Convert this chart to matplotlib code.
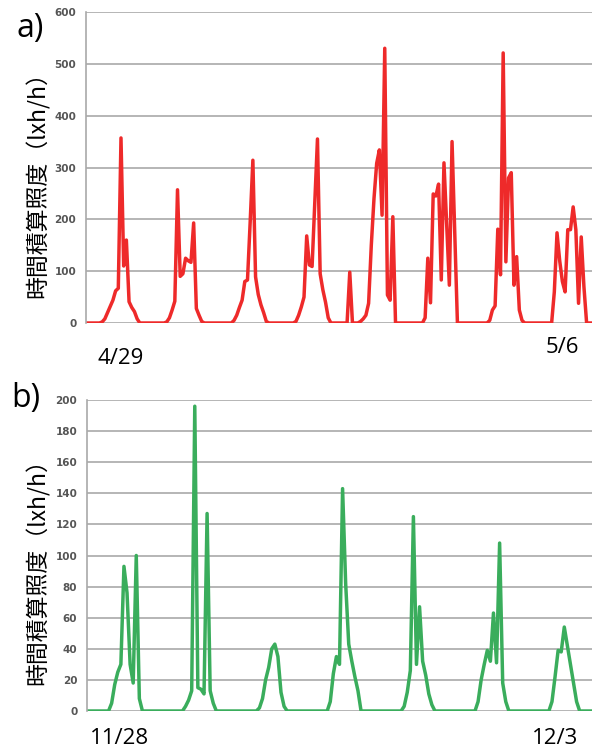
import numpy as np
import matplotlib
matplotlib.use("Agg")
import matplotlib.pyplot as plt
from matplotlib.transforms import blended_transform_factory

# ---------------- data: hourly illuminance (lxh/h) ----------------
# panel a) 4/29 - 5/6  (one list of 24 hourly values per day)
a_day1 = [0, 0, 0, 0, 0, 0, 2, 8, 20, 32, 44, 62, 67, 357, 110, 160, 41, 30, 22, 8, 0, 0, 0, 0]
a_day2 = [0, 0, 0, 0, 0, 0, 2, 10, 25, 42, 257, 90, 95, 125, 120, 117, 193, 28, 15, 3, 0, 0, 0, 0]
a_day3 = [0, 0, 0, 0, 0, 0, 0, 5, 15, 30, 44, 80, 83, 195, 314, 89, 55, 35, 20, 3, 0, 0, 0, 0]
a_day4 = [0, 0, 0, 0, 0, 0, 3, 15, 31, 50, 168, 112, 109, 230, 355, 95, 64, 40, 10, 0, 0, 0, 0, 0]
a_day5 = [0, 0, 98, 0, 0, 0, 3, 8, 15, 38, 150, 240, 308, 334, 208, 530, 54, 44, 205, 0, 0, 0, 0, 0]
a_day6 = [0, 0, 0, 0, 0, 0, 10, 125, 39, 249, 245, 268, 83, 309, 190, 73, 350, 175, 0, 0, 0, 0, 0, 0]
a_day7 = [0, 0, 0, 0, 0, 0, 5, 25, 33, 181, 93, 521, 118, 280, 290, 73, 128, 25, 5, 0, 0, 0, 0, 0]
a_day8 = [0, 0, 0, 0, 0, 0, 60, 174, 120, 80, 60, 180, 180, 224, 180, 38, 166, 70, 0, 0, 0]
a_labels = ["4/29", "5/6"]

# panel b) 11/28 - 12/3
b_day1 = [0, 0, 0, 0, 0, 0, 0, 0, 5, 17, 25, 30, 93, 76, 30, 18, 100, 8, 0, 0, 0, 0, 0, 0]
b_day2 = [0, 0, 0, 0, 0, 0, 0, 0, 3, 7, 13, 196, 15, 14, 11, 127, 13, 5, 0, 0, 0, 0, 0, 0]
b_day3 = [0, 0, 0, 0, 0, 0, 0, 0, 2, 8, 20, 28, 40, 43, 35, 12, 3, 0, 0, 0, 0, 0, 0, 0]
b_day4 = [0, 0, 0, 0, 0, 0, 0, 6, 24, 35, 30, 143, 82, 43, 32, 22, 13, 0, 0, 0, 0, 0, 0, 0]
b_day5 = [0, 0, 0, 0, 0, 0, 0, 3, 12, 26, 125, 30, 67, 32, 23, 11, 4, 0, 0, 0, 0, 0, 0, 0]
b_day6 = [0, 0, 0, 0, 0, 0, 0, 6, 20, 30, 39, 32, 63, 31, 108, 18, 6, 0, 0, 0, 0, 0, 0, 0]
b_day7 = [0, 0, 0, 0, 0, 0, 0, 6, 22, 39, 38, 54, 42, 30, 18, 6, 0, 0, 0, 0, 0]
b_labels = ["11/28", "12/3"]

ylabel = "時間積算照度（lxh/h）"

series_a = np.concatenate([a_day1, a_day2, a_day3, a_day4, a_day5, a_day6, a_day7, a_day8])
series_b = np.concatenate([b_day1, b_day2, b_day3, b_day4, b_day5, b_day6, b_day7])

# ---------------- figure ----------------
fig = plt.figure(figsize=(5.92, 7.51), dpi=100)
W, H = 592, 751

def make_ax(left, top, right, bottom):
    return fig.add_axes([left / W, 1 - bottom / H, (right - left) / W, (bottom - top) / H])

ax_a = make_ax(86, 12, 592, 323)
ax_b = make_ax(87, 400, 592, 711)

grid_col = "#a9a9a9"
tick_col = "#555555"
cjk = ["Noto Sans CJK JP", "DejaVu Sans"]

def style(ax, ymax, step):
    ax.set_ylim(0, ymax)
    ax.set_yticks(np.arange(0, ymax + 1, step))
    ax.yaxis.grid(True, color=grid_col, lw=1.2)
    ax.set_axisbelow(True)
    for s in ["top", "right", "bottom"]:
        ax.spines[s].set_visible(False)
    ax.spines["left"].set_color(grid_col)
    ax.spines["left"].set_linewidth(1.2)
    ax.tick_params(axis="y", length=0, pad=7, labelsize=7.5, labelcolor=tick_col)
    for t in ax.get_yticklabels():
        t.set_fontweight("bold")
    ax.set_xticks([])

# panel a
xa = np.arange(len(series_a))
ax_a.plot(xa, series_a, color="#ee2a2a", lw=2.5, solid_joinstyle="round")
ax_a.set_xlim(0, len(series_a) - 1)
style(ax_a, 600, 100)
ax_a.set_ylabel(ylabel, family=cjk, fontsize=16.5)
ax_a.yaxis.set_label_coords(-0.071, 0.463)
tr_a = blended_transform_factory(ax_a.transData, ax_a.transAxes)
ax_a.text(13, -0.113, a_labels[0], transform=tr_a, ha="center", va="center",
          family="Open Sans", fontsize=16)
ax_a.text(177, -0.080, a_labels[1], transform=tr_a, ha="center", va="center",
          family="Open Sans", fontsize=16)

# panel b
xb = np.arange(len(series_b))
ax_b.plot(xb, series_b, color="#3aad5c", lw=2.5, solid_joinstyle="round")
ax_b.set_xlim(0, len(series_b) - 1)
style(ax_b, 200, 20)
ax_b.set_ylabel(ylabel, family=cjk, fontsize=16.5)
ax_b.yaxis.set_label_coords(-0.073, 0.466)
tr_b = blended_transform_factory(ax_b.transData, ax_b.transAxes)
ax_b.text(10.4, -0.087, b_labels[0], transform=tr_b, ha="center", va="center",
          family="Open Sans", fontsize=16)
ax_b.text(152, -0.087, b_labels[1], transform=tr_b, ha="center", va="center",
          family="Open Sans", fontsize=16)

# panel letters
fig.text(30 / W, 1 - 28 / H, "a)", family="Open Sans", fontsize=23, ha="center", va="center")
fig.text(26 / W, 1 - 399 / H, "b)", family="Open Sans", fontsize=23, ha="center", va="center")

fig.savefig("out.png", dpi=100)
